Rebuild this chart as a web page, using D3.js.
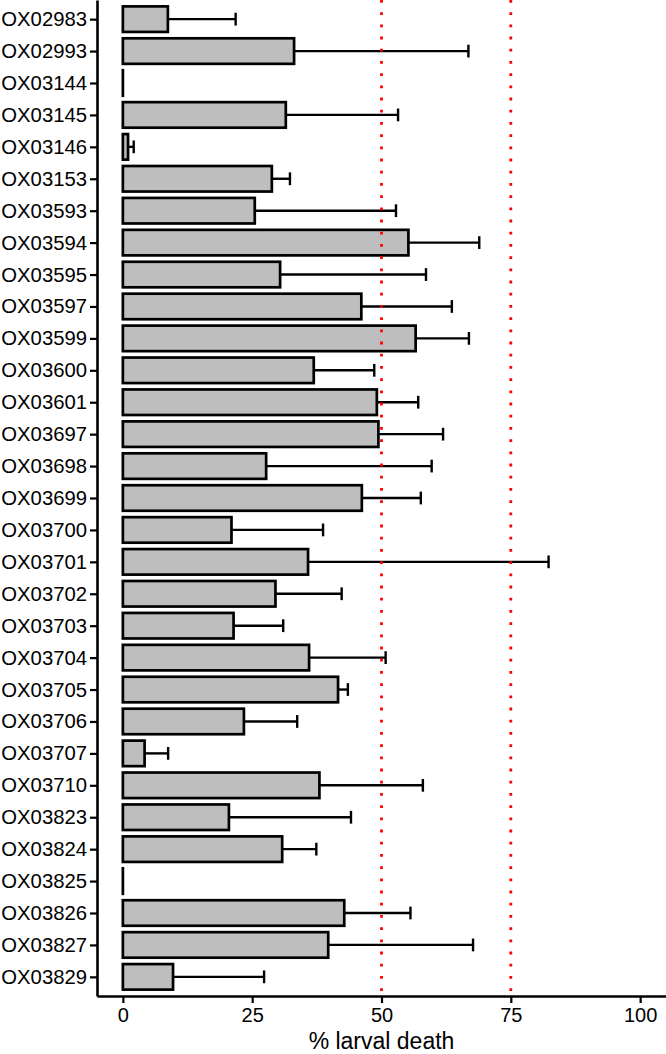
<!DOCTYPE html>
<html>
<head>
<meta charset="utf-8">
<script src="https://cdn.jsdelivr.net/npm/d3@7"></script>
<title>Larval death</title>
<style>
body { margin: 0; background: #fff; }
text { font-family: "Liberation Sans", Arial, sans-serif; fill: #000; }
</style>
</head>
<body>
<script>

// data
var lines = ["OX02983","OX02993","OX03144","OX03145","OX03146","OX03153","OX03593","OX03594",
  "OX03595","OX03597","OX03599","OX03600","OX03601","OX03697","OX03698","OX03699",
  "OX03700","OX03701","OX03702","OX03703","OX03704","OX03705","OX03706","OX03707",
  "OX03710","OX03823","OX03824","OX03825","OX03826","OX03827","OX03829"];

var death = [8.7, 33.1, 0, 31.5, 1.0, 28.8, 25.5, 55.2,
  30.4, 46.1, 56.6, 36.9, 49.1, 49.4, 27.7, 46.2,
  21.0, 35.8, 29.5, 21.4, 36.0, 41.6, 23.4, 4.2,
  38.0, 20.5, 30.8, 0, 42.8, 39.7, 9.7];

var upper = [21.8, 66.8, 0, 53.2, 2.1, 32.3, 52.8, 68.9,
  58.6, 63.6, 66.9, 48.6, 57.1, 61.9, 59.7, 57.6,
  38.7, 82.3, 42.3, 31.0, 50.8, 43.5, 33.7, 8.75,
  58.0, 44.1, 37.4, 0, 55.6, 67.7, 27.3];

var refLines = [50, 75];
var xTicks = [0, 25, 50, 75, 100];

var width = 666,
    height = 1054;
var margin = { top: 0, right: 0, bottom: 58, left: 97 };

var svg = d3.select("body")
  .append("svg")
  .attr("width", width)
  .attr("height", height);

var x = d3.scaleLinear()
  .domain([-5, 105])
  .range([margin.left, width - margin.right]);

var y = d3.scalePoint()
  .domain(lines)
  .range([margin.top, height - margin.bottom])
  .padding(0.6);

var step = y.step();
var barH = step * 0.8;
var capH = step * 0.4;

var rows = lines.map(function(d, i) {
  return { name: d, v: death[i], hi: upper[i] };
});

// bars
svg.append("g")
  .selectAll("rect")
  .data(rows)
  .enter()
  .append("rect")
  .attr("x", x(0))
  .attr("y", function(d) { return y(d.name) - barH / 2; })
  .attr("width", function(d) { return Math.max(0.01, x(d.v) - x(0)); })
  .attr("height", barH)
  .attr("fill", "#bebebe")
  .attr("stroke", "#000")
  .attr("stroke-width", 2.7);

// error bars (upper half only visible)
var eb = svg.append("g")
  .selectAll("g")
  .data(rows.filter(function(d) { return d.hi > d.v; }))
  .enter()
  .append("g")
  .attr("stroke", "#000")
  .attr("stroke-width", 2.4);

eb.append("line")
  .attr("x1", function(d) { return x(d.v); })
  .attr("x2", function(d) { return x(d.hi); })
  .attr("y1", function(d) { return y(d.name); })
  .attr("y2", function(d) { return y(d.name); });

eb.append("line")
  .attr("x1", function(d) { return x(d.hi); })
  .attr("x2", function(d) { return x(d.hi); })
  .attr("y1", function(d) { return y(d.name) - capH / 2; })
  .attr("y2", function(d) { return y(d.name) + capH / 2; });

// dotted reference lines
svg.append("g")
  .selectAll("line")
  .data(refLines)
  .enter()
  .append("line")
  .attr("x1", function(d) { return x(d); })
  .attr("x2", function(d) { return x(d); })
  .attr("y1", margin.top)
  .attr("y2", height - margin.bottom)
  .attr("stroke", "#ff0000")
  .attr("stroke-width", 2.8)
  .attr("stroke-dasharray", "2.8 9.4");

// axes
var yAxis = svg.append("g")
  .attr("transform", "translate(" + margin.left + ",0)")
  .call(d3.axisLeft(y).tickSize(7).tickSizeOuter(0).tickPadding(3));

var xAxis = svg.append("g")
  .attr("transform", "translate(0," + (height - margin.bottom) + ")")
  .call(d3.axisBottom(x).tickValues(xTicks).tickSize(7).tickSizeOuter(0).tickPadding(5));

[yAxis, xAxis].forEach(function(a) {
  a.select(".domain").attr("stroke", "#000").attr("stroke-width", 2.6);
  a.selectAll(".tick line").attr("stroke", "#000").attr("stroke-width", 2.2);
  a.selectAll(".tick text")
    .style("font-family", "'Liberation Sans', Arial, sans-serif")
    .attr("fill", "#000");
});
yAxis.selectAll(".tick text").style("font-size", "20.3px");
xAxis.selectAll(".tick text").style("font-size", "20px");

svg.append("text")
  .attr("x", (margin.left + width - margin.right) / 2)
  .attr("y", height - 5)
  .attr("text-anchor", "middle")
  .style("font-size", "23px")
  .text("% larval death");

</script>
</body>
</html>
